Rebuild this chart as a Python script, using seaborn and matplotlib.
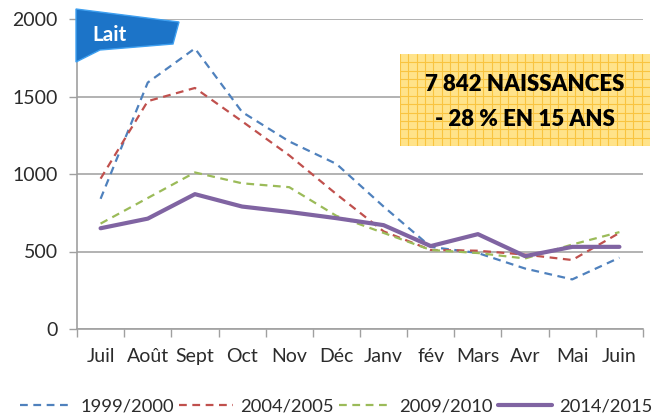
import matplotlib
matplotlib.use("Agg")
import matplotlib.pyplot as plt
import matplotlib.patches as mpatches
import seaborn as sns
import pandas as pd
import numpy as np
from matplotlib.lines import Line2D

months = ["Juil", "Août", "Sept", "Oct", "Nov", "Déc", "Janv", "fév", "Mars", "Avr", "Mai", "Juin"]
seasons = ["1999/2000", "2004/2005", "2009/2010", "2014/2015"]
s1999 = [840, 1590, 1810, 1400, 1210, 1065, 790, 530, 490, 390, 320, 460]
s2004 = [970, 1470, 1555, 1340, 1120, 870, 630, 510, 505, 480, 445, 620]
s2009 = [680, 845, 1010, 940, 915, 730, 620, 510, 490, 455, 545, 625]
s2014 = [650, 712, 870, 790, 755, 715, 670, 535, 612, 470, 530, 530]
yticks = [0, 500, 1000, 1500, 2000]
badge_text = "Lait"
box_lines = ["7 842 NAISSANCES", "- 28 % EN 15 ANS"]

colors = ["#4F81BD", "#C0504D", "#9BBB59", "#8064A2"]

df = pd.DataFrame({
    "mois": months * 4,
    "naissances": s1999 + s2004 + s2009 + s2014,
    "saison": np.repeat(seasons, len(months)),
})

sns.set_theme(style="white")
plt.rcParams["font.family"] = ["Lato", "DejaVu Sans"]

W, H = 672, 416
fig = plt.figure(figsize=(W / 100, H / 100), dpi=100)
L, R, T, B = 77, 643, 19, 329
ax = fig.add_axes([L / W, 1 - B / H, (R - L) / W, (B - T) / H])

sns.lineplot(
    data=df, x="mois", y="naissances", hue="saison", style="saison",
    hue_order=seasons, style_order=seasons, palette=colors,
    dashes={"1999/2000": (3.5, 2.5), "2004/2005": (3.5, 2.5),
            "2009/2010": (3.5, 2.5), "2014/2015": ""},
    sort=False, ax=ax, legend=False,
)
for i, line in enumerate(ax.get_lines()):
    line.set_linewidth(3.0 if i == 3 else 1.6)
    if i == 3:
        line.set_zorder(5)

ax.set_xlim(-0.5, 11.5)
ax.set_ylim(0, 2000)
ax.set_yticks(yticks)
ax.set_yticklabels([str(v) for v in yticks])
ax.set_xticks(range(len(months)))
ax.set_xticklabels(months)
ax.set_xticks(np.arange(-0.5, 12.0, 1.0), minor=True)
ax.tick_params(axis="x", which="major", length=0, pad=14, labelsize=14, colors="#2B2B2B")
ax.tick_params(axis="x", which="minor", length=6, width=1, color="#A0A0A0", direction="out", bottom=True)
ax.tick_params(axis="y", length=6, width=1, color="#A0A0A0", direction="out", left=True, pad=8,
               labelsize=14, colors="#2B2B2B")
ax.set_xlabel("")
ax.set_ylabel("")
ax.yaxis.grid(True, color="#A6A6A6", linewidth=1.2)
ax.set_axisbelow(True)
for side in ["top", "right"]:
    ax.spines[side].set_visible(False)
for side in ["left", "bottom"]:
    ax.spines[side].set_color("#A0A0A0")
    ax.spines[side].set_linewidth(1.2)

# legend
handles = []
for i, s in enumerate(seasons):
    if i == 3:
        handles.append(Line2D([0], [0], color=colors[i], lw=3.0))
    else:
        handles.append(Line2D([0], [0], color=colors[i], lw=1.6, dashes=(3.5, 2.5)))
fig.legend(handles, seasons, loc="lower center", bbox_to_anchor=(0.5, -0.035), ncol=4,
           frameon=False, fontsize=13.2, handlelength=2.9, handletextpad=0.4,
           columnspacing=0.3, labelcolor="#2B2B2B")

# "Lait" badge
def fx(px):
    return px / W
def fy(py):
    return 1 - py / H
poly = [(76, 9), (179, 22), (173, 44), (100, 50), (76, 62)]
badge = mpatches.Polygon([(fx(x), fy(y)) for x, y in poly], closed=True,
                         transform=fig.transFigure, facecolor="#1C74C8",
                         edgecolor="#3FA0F0", linewidth=1, zorder=10)
fig.patches.append(badge)
fig.text(fx(110), fy(35), badge_text, color="white", fontsize=15, fontweight="bold",
         ha="center", va="center", zorder=11)

# yellow grid box
bx = fig.add_axes([fx(400), fy(146), (650 - 400) / W, (146 - 54) / H])
bx.set_facecolor("#FFE38A")
bx.set_xlim(0, 30)
bx.set_ylim(0, 11)
for v in np.arange(0, 30, 1):
    bx.axvline(v, color="#F9C440", lw=0.8)
for v in np.arange(0, 11, 1):
    bx.axhline(v, color="#F9C440", lw=0.8)
bx.set_xticks([])
bx.set_yticks([])
for s in bx.spines.values():
    s.set_visible(False)
bx.text(15, 7.3, box_lines[0], ha="center", va="center", fontsize=16, fontweight="heavy", color="black")
bx.text(15, 3.2, box_lines[1], ha="center", va="center", fontsize=16, fontweight="heavy", color="black")

fig.savefig("out.png", dpi=100)
